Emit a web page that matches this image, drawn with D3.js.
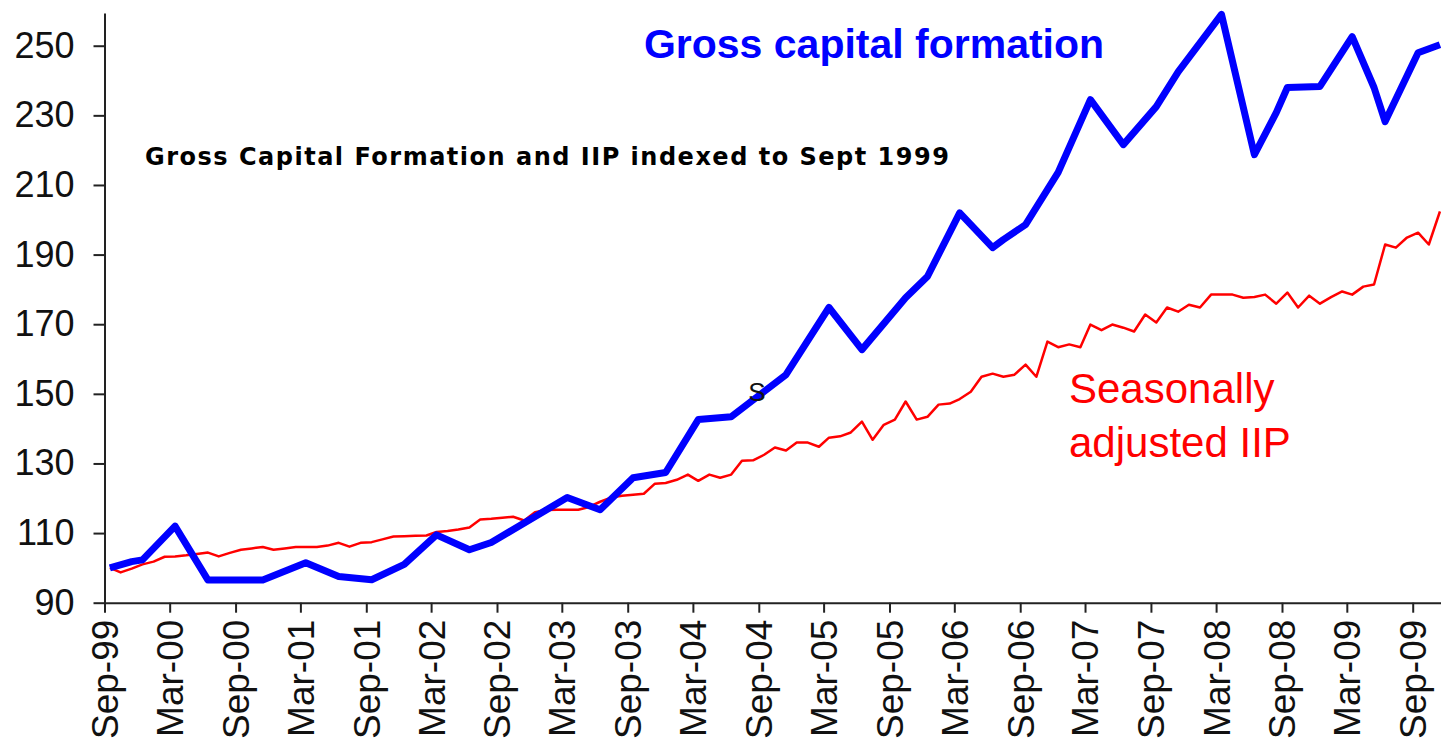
<!DOCTYPE html>
<html>
<head>
<meta charset="utf-8">
<script src="https://cdn.jsdelivr.net/npm/d3@7"></script>
<style>
  body { margin: 0; background: #fff; }
  svg { display: block; }
  .axis text { font-family: "Liberation Sans", Arial, sans-serif; fill: #111; }
</style>
</head>
<body>
<div id="wrapper"></div>
<script>
// x axis tick labels (every 6 months)
const tickLabels = ["Sep-99","Mar-00","Sep-00","Mar-01","Sep-01","Mar-02","Sep-02","Mar-03",
  "Sep-03","Mar-04","Sep-04","Mar-05","Sep-05","Mar-06","Sep-06","Mar-07","Sep-07","Mar-08",
  "Sep-08","Mar-09","Sep-09"];
const yTicks = [90, 110, 130, 150, 170, 190, 210, 230, 250];

// Gross capital formation (index, Sep-99 = 100), read at the turning points
const gcfMonths = ["Sep-99","Nov-99","Dec-99","Mar-00","Jun-00","Nov-00","Mar-01","Jun-01","Sep-01",
  "Dec-01","Mar-02","Jun-02","Aug-02","Mar-03","Jun-03","Sep-03","Dec-03","Mar-04","Jun-04",
  "Nov-04","Mar-05","Jun-05","Oct-05","Dec-05","Mar-06","Jun-06","Jul-06","Sep-06","Dec-06",
  "Mar-07","Jun-07","Sep-07","Nov-07","Mar-08","Jun-08","Aug-08","Sep-08","Dec-08","Mar-09",
  "May-09","Jun-09","Sep-09","Nov-09"];
const gcfValues = [100, 101.8, 102.3, 112, 96.5, 96.5, 101.5, 97.5, 96.6,
  101, 109.5, 105.2, 107.3, 120.2, 116.7, 125.9, 127.4, 142.6, 143.4,
  155.5, 174.8, 162.7, 177.6, 183.7, 202, 192, 194.3, 198.6, 213.6,
  234.5, 221.6, 232.5, 242.5, 259, 218.7, 230.8, 238, 238.3, 252.6,
  238, 228.2, 248, 250.3];

// Seasonally adjusted IIP, monthly from Sep-99 to Nov-09
const iipValues = [100, 98.7, 99.8, 101, 101.8, 103.2, 103.3, 103.6, 104, 104.4,
  103.3, 104.3, 105.2, 105.6, 106, 105.2, 105.6, 106, 106, 106,
  106.4, 107.2, 106.1, 107.2, 107.4, 108.2, 109, 109.1, 109.2, 109.3,
  110.3, 110.6, 111, 111.6, 113.9, 114.1, 114.4, 114.7, 113.6, 116,
  116.6, 116.7, 116.7, 116.7, 117.5, 119, 120.2, 120.7, 121, 121.3,
  124.2, 124.4, 125.3, 126.8, 125, 126.8, 125.9, 126.8, 130.8, 130.9,
  132.5, 134.6, 133.7, 136, 136, 134.8, 137.4, 137.8, 138.9, 142,
  136.8, 141.1, 142.6, 147.8, 142.6, 143.4, 146.9, 147.2, 148.5, 150.6,
  154.9, 155.8, 154.9, 155.5, 158.4, 154.9, 165, 163.4, 164.2, 163.4,
  169.9, 168.3, 169.9, 169, 167.9, 172.8, 170.5, 174.8, 173.6, 175.6,
  174.8, 178.5, 178.5, 178.5, 177.6, 177.8, 178.5, 175.9, 179.1, 174.8,
  178.2, 175.9, 177.8, 179.4, 178.5, 180.8, 181.4, 192.9, 192, 194.9,
  196.3, 192.9, 202.4];

const parseMonth = d3.timeParse("%b-%y");
const iipMonths = d3.timeMonth.range(new Date(1999, 8, 1), new Date(2009, 11, 1));

const dimension = {
  width: 1441,
  height: 744,
  margin: { left: 104.5, right: 0, top: 13, bottom: 141.3 }
};

const svg = d3.select("#wrapper").append("svg")
  .attr("width", dimension.width)
  .attr("height", dimension.height);

const x_scaler = d3.scaleTime()
  .domain([new Date(1999, 8, 1), new Date(2009, 10, 19)])
  .range([dimension.margin.left, dimension.width - dimension.margin.right]);
const y_scaler = d3.scaleLinear()
  .domain([90, 259.4])
  .range([dimension.height - dimension.margin.bottom, dimension.margin.top]);

// points sit in the middle of their month
const midMonth = (d) => d3.timeDay.offset(d, 15);

const gcf = gcfMonths.map((m, i) => ({ date: parseMonth(m), value: gcfValues[i] }));
const iip = iipValues.map((v, i) => ({ date: iipMonths[i], value: v }));

const line = d3.line()
  .x(d => x_scaler(midMonth(d.date)))
  .y(d => y_scaler(d.value));

// axes
const x_axis = d3.axisBottom(x_scaler)
  .tickValues(tickLabels.map(parseMonth))
  .tickFormat(d3.timeFormat("%b-%y"))
  .tickSize(10)
  .tickSizeOuter(0);
const y_axis = d3.axisLeft(y_scaler)
  .tickValues(yTicks)
  .tickSize(11)
  .tickPadding(19)
  .tickSizeOuter(0);

const gx = svg.append("g")
  .attr("class", "axis")
  .attr("transform", `translate(0,${y_scaler(90)})`)
  .call(x_axis);
gx.selectAll("path, line").attr("stroke", "#222").attr("stroke-width", 2);
gx.selectAll("text")
  .style("font-size", "37px")
  .attr("text-anchor", "end")
  .attr("transform", "rotate(-90)")
  .attr("x", -17)
  .attr("y", 0)
  .attr("dy", "0.35em");

const gy = svg.append("g")
  .attr("class", "axis")
  .attr("transform", `translate(${dimension.margin.left},0)`)
  .call(y_axis);
gy.selectAll("path, line").attr("stroke", "#222").attr("stroke-width", 2);
gy.selectAll("text").style("font-size", "36px");

// lines
svg.append("path")
  .attr("fill", "none")
  .attr("stroke", "#ff0000")
  .attr("stroke-width", 2.5)
  .attr("stroke-linejoin", "round")
  .attr("d", line(iip));

svg.append("path")
  .attr("fill", "none")
  .attr("stroke", "#0000ff")
  .attr("stroke-width", 7)
  .attr("stroke-linejoin", "round")
  .attr("d", line(gcf));

// labels
svg.append("text")
  .attr("x", 874).attr("y", 58)
  .attr("text-anchor", "middle")
  .style("font-family", "'Liberation Sans', Arial, sans-serif")
  .style("font-weight", "bold")
  .style("font-size", "41px")
  .attr("fill", "#0000ff")
  .text("Gross capital formation");

svg.append("text")
  .attr("x", 145).attr("y", 165)
  .style("font-family", "'DejaVu Sans', Verdana, sans-serif")
  .style("font-weight", "bold")
  .style("font-size", "24px")
  .style("letter-spacing", "1.5px")
  .attr("fill", "#000")
  .text("Gross Capital Formation and IIP indexed to Sept 1999");

svg.append("text")
  .attr("x", 757).attr("y", 401)
  .attr("text-anchor", "middle")
  .style("font-family", "'Liberation Sans', Arial, sans-serif")
  .style("font-size", "26px")
  .attr("fill", "#111")
  .text("S");

const iipLabel = svg.append("text")
  .style("font-family", "'Liberation Sans', Arial, sans-serif")
  .style("font-size", "42px")
  .attr("fill", "#ff0000");
iipLabel.append("tspan").attr("x", 1069).attr("y", 403).text("Seasonally");
iipLabel.append("tspan").attr("x", 1069).attr("y", 457).text("adjusted IIP");
</script>
</body>
</html>
